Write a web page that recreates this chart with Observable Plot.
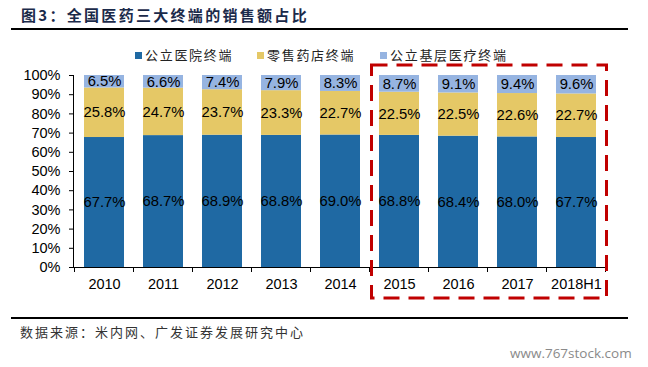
<!DOCTYPE html>
<html><head><meta charset="utf-8">
<script src="https://cdn.jsdelivr.net/npm/d3@7"></script>
<script src="https://cdn.jsdelivr.net/npm/@observablehq/plot@0.6"></script>
<style>
body{margin:0;background:#fff;}
#wrap{position:relative;width:648px;height:367px;overflow:hidden;font-family:"Noto Sans CJK SC",sans-serif;}
#chart{position:absolute;left:0;top:0;}
#title{position:absolute;left:21px;top:5px;font-size:15px;font-weight:bold;color:#1b2a4a;letter-spacing:2.3px;line-height:20px;white-space:nowrap;}
.hr{position:absolute;left:11px;width:617px;height:0;border-top:2px solid #000;}
#legend{position:absolute;top:46px;left:0;height:18px;font-size:13px;color:#222;line-height:18px;white-space:nowrap;}
.item{position:absolute;top:0;display:flex;align-items:center;letter-spacing:1.7px;}
.sw{width:7px;height:7px;margin-right:3px;display:inline-block;}
#source{position:absolute;left:20px;top:322px;font-size:13px;color:#333;letter-spacing:2.0px;line-height:20px;white-space:nowrap;}
#wm{position:absolute;left:510px;top:344px;font-family:"Open Sans",sans-serif;font-size:13.5px;color:#8a8a8a;line-height:18px;white-space:nowrap;}
</style></head><body>
<div id="wrap">
  <div id="chart"></div>
  <div id="title">图3：全国医药三大终端的销售额占比</div>
  <div class="hr" style="top:28px"></div>
  <div id="legend"></div>
  <div class="hr" style="top:317px"></div>
  <div id="source">数据来源：米内网、广发证券发展研究中心</div>
  <div id="wm">www.767stock.com</div>
</div>
<script>
const years = ["2010","2011","2012","2013","2014","2015","2016","2017","2018H1"];
const series = ["公立医院终端","零售药店终端","公立基层医疗终端"];
const colors = ["#1f69a3","#e5c866","#96b4e1"];
const hospital = [67.7,68.7,68.9,68.8,69.0,68.8,68.4,68.0,67.7];
const retail = [25.8,24.7,23.7,23.3,22.7,22.5,22.5,22.6,22.7];
const grassroots = [6.5,6.6,7.4,7.9,8.3,8.7,9.1,9.4,9.6];
const yTicks = [0,10,20,30,40,50,60,70,80,90,100];
const highlighted = ["2015","2016","2017","2018H1"];
const legendX = [135,257,380];

const values = [hospital, retail, grassroots];
const data = [];
years.forEach((yr,i)=>series.forEach((s,j)=>data.push({year:yr, series:s, value:values[j][i]})));

const plot = Plot.plot({
  width:648, height:300,
  marginTop:75, marginBottom:33, marginLeft:73, marginRight:41,
  style:{fontFamily:"'Liberation Sans', Arial, sans-serif", fontSize:"14.5px", background:"transparent", color:"#000"},
  x:{domain:years, paddingInner:0.33, paddingOuter:0.165, label:null},
  y:{domain:[0,100], label:null},
  color:{domain:series, range:colors},
  marks:[
    Plot.barY(data,{x:"year", y:"value", fill:"series"}),
    Plot.text(data, Plot.stackY({x:"year", y:"value", z:"series", text:d=>d.value.toFixed(1)+"%", fill:"#000", fontSize:14.8})),
    Plot.axisY({ticks:yTicks, tickFormat:d=>d+"%", tickSize:4, tickPadding:9, label:null, fontSize:14.5}),
    Plot.axisX({tickSize:0, tickPadding:11, label:null, fontSize:14.5}),
    Plot.frame({anchor:"left"}),
    Plot.frame({anchor:"bottom"})
  ]
});
document.getElementById("chart").appendChild(plot);

(function(){
  const xs = plot.scale("x"), ys = plot.scale("y");
  const bw = xs.bandwidth;
  const step = xs.step || bw/(1-0.33);
  const half = (step-bw)/2;
  const svg = d3.select(plot);
  const y0 = ys.apply(0), y100 = ys.apply(100);
  const bounds = years.map(y=>xs.apply(y)-half).concat([xs.apply(years[years.length-1])+bw+half]);
  svg.append("g").selectAll("line").data(bounds).join("line")
    .attr("x1",d=>d).attr("x2",d=>d).attr("y1",y0).attr("y2",y0+5).attr("stroke","#000");
  const rl = xs.apply(highlighted[0]) - half + 2;
  const rr = xs.apply(highlighted[highlighted.length-1]) + bw + half + 1;
  const rt = y100 - 10, rb = y0 + 31;
  svg.append("rect").attr("x",rl).attr("y",rt).attr("width",rr-rl).attr("height",rb-rt)
    .attr("fill","none").attr("stroke","#c00000").attr("stroke-width",3).attr("stroke-dasharray","16 9");
})();

const legend = document.getElementById("legend");
series.forEach((s,i)=>{
  const it = document.createElement("div");
  it.className="item"; it.style.left = legendX[i]+"px";
  it.innerHTML = `<span class="sw" style="background:${colors[i]}"></span><span>${s}</span>`;
  legend.appendChild(it);
});
</script>
</body></html>
